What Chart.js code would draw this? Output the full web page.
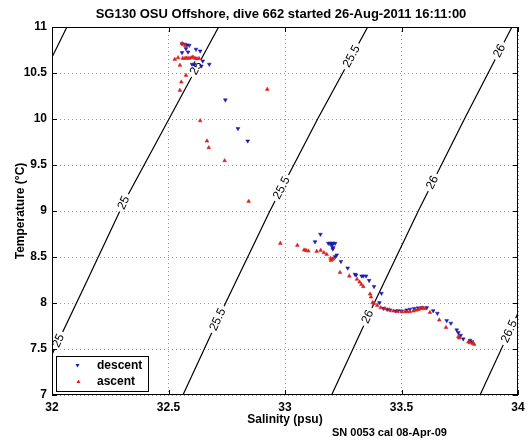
<!DOCTYPE html>
<html>
<head>
<meta charset="utf-8">
<script src="https://cdn.jsdelivr.net/npm/chart.js@4.4.1/dist/chart.umd.min.js"></script>
<style>
html, body { margin: 0; padding: 0; background: #fff; }
canvas { display: block; }
</style>
</head>
<body>
<canvas id="ts" width="530" height="442"></canvas>
<script>
// descent (blue, down triangles) - salinity / temperature
var descentS = [32.558, 32.570, 32.579, 32.589, 32.575, 32.558, 32.584, 32.618, 32.636, 32.647,
  32.601, 32.612, 32.641, 32.675, 32.744, 32.798, 32.840,
  33.152, 33.129, 33.186, 33.193, 33.200, 33.207, 33.215, 33.200, 33.207, 33.205,
  33.222, 33.215, 33.240, 33.269, 33.300, 33.305, 33.329, 33.336, 33.348, 33.361,
  33.382, 33.414, 33.405, 33.422, 33.438, 33.451, 33.474, 33.486, 33.501, 33.522,
  33.536, 33.554, 33.571, 33.588, 33.608, 33.636, 33.654, 33.694, 33.712, 33.737,
  33.744, 33.754, 33.765, 33.794, 33.803];
var descentT = [10.818, 10.812, 10.804, 10.801, 10.764, 10.721, 10.728, 10.758, 10.739, 10.630,
  10.595, 10.595, 10.576, 10.595, 10.207, 9.895, 9.761,
  8.747, 8.666, 8.649, 8.649, 8.649, 8.649, 8.649, 8.623, 8.601, 8.587,
  8.522, 8.503, 8.451, 8.380, 8.312, 8.304, 8.293, 8.293, 8.293, 8.245,
  8.179, 8.105, 8.003, 7.942, 7.932, 7.924, 7.913, 7.916, 7.913, 7.924,
  7.932, 7.940, 7.946, 7.949, 7.949, 7.916, 7.888, 7.808, 7.780, 7.707,
  7.677, 7.649, 7.609, 7.595, 7.579];

// ascent (red, up triangles)
var ascentS = [32.558, 32.571, 32.527, 32.541, 32.561, 32.571, 32.579, 32.588, 32.597, 32.605,
  32.614, 32.622, 32.631, 32.549, 32.575, 32.555, 32.549, 32.924, 32.636, 32.665,
  32.673, 32.741, 32.844, 32.980,
  33.053, 33.082, 33.090, 33.100, 33.136, 33.153, 33.167, 33.179, 33.196, 33.202,
  33.207, 33.197, 33.236, 33.276, 33.309, 33.320, 33.328, 33.336, 33.365, 33.369,
  33.376, 33.382, 33.396, 33.411, 33.429, 33.448, 33.465, 33.482, 33.501, 33.515,
  33.525, 33.536, 33.551, 33.562, 33.572, 33.582, 33.591, 33.601, 33.622, 33.662,
  33.691, 33.744, 33.748, 33.787, 33.794, 33.806, 33.812];
var ascentT = [10.820, 10.800, 10.649, 10.666, 10.660, 10.660, 10.663, 10.660, 10.666, 10.674,
  10.660, 10.655, 10.658, 10.584, 10.475, 10.402, 10.312, 10.323, 9.981, 9.761,
  9.688, 9.547, 9.105, 8.649,
  8.627, 8.576, 8.573, 8.565, 8.562, 8.573, 8.547, 8.527, 8.486, 8.473,
  8.482, 8.462, 8.332, 8.293, 8.258, 8.228, 8.201, 8.179, 8.098, 8.065,
  8.005, 7.997, 7.973, 7.949, 7.938, 7.924, 7.913, 7.910, 7.905, 7.905,
  7.905, 7.905, 7.913, 7.921, 7.929, 7.938, 7.946, 7.938, 7.897, 7.815,
  7.734, 7.634, 7.620, 7.576, 7.568, 7.562, 7.551];

var xTicks = ['32', '32.5', '33', '33.5', '34'];
var yTicks = ['7', '7.5', '8', '8.5', '9', '9.5', '10', '10.5', '11'];

// density contours (sigma-theta)
var sig245S = [32.0, 32.064];
var sig245T = [10.67, 11.0];
var sig25S = [32.0, 32.15, 32.308, 32.502, 32.715];
var sig25T = [7.44, 8.24, 9.09, 10.0, 11.0];
var sig255S = [32.562, 32.745, 32.935, 33.14, 33.355];
var sig255T = [7.0, 8.0, 9.0, 10.0, 11.0];
var sig26S = [33.2, 33.383, 33.572, 33.77, 33.974];
var sig26T = [7.0, 8.0, 9.0, 10.0, 11.0];
var sig265S = [33.837, 34.02];
var sig265T = [7.0, 8.0];

// where the inline labels sit (temperature along each line)
var label25T = [10.55, 9.09, 7.59];
var label255T = [10.68, 9.25, 7.82];
var label26T = [10.74, 9.31, 7.85];
var label265T = [7.69];

var FONT = '"Liberation Sans", Arial, Helvetica, sans-serif';

function pts(xs, ys) {
  return xs.map(function (x, i) { return { x: x, y: ys[i] }; });
}

function contour(name, xs, ys, labelsAt) {
  return {
    label: name,
    data: pts(xs, ys),
    showLine: true,
    borderColor: '#000',
    borderWidth: 1.2,
    pointRadius: 0,
    pointHoverRadius: 0,
    fill: false,
    tension: 0,
    labelT: labelsAt
  };
}

// rótulos das isopicnais, título, caixa, ticks internos e legenda
var tsExtras = {
  id: 'tsExtras',
  afterDatasetDraw: function (chart, args) {
    var ds = chart.data.datasets[args.index];
    if (!ds.labelT || !ds.labelT.length) return;
    var ctx = chart.ctx, xs = chart.scales.x, ys = chart.scales.y, ca = chart.chartArea;
    ctx.save();
    ctx.beginPath();
    ctx.rect(ca.left, ca.top, ca.right - ca.left, ca.bottom - ca.top);
    ctx.clip();
    ctx.font = '12px ' + FONT;
    ds.labelT.forEach(function (t) {
      var p = ds.data;
      for (var i = 0; i < p.length - 1; i++) {
        var a = p[i], b = p[i + 1];
        if (t >= a.y && t <= b.y) {
          var f = (t - a.y) / (b.y - a.y);
          var s = a.x + f * (b.x - a.x);
          var px = xs.getPixelForValue(s), py = ys.getPixelForValue(t);
          var ang = Math.atan2(ys.getPixelForValue(b.y) - ys.getPixelForValue(a.y),
                               xs.getPixelForValue(b.x) - xs.getPixelForValue(a.x));
          var w = ctx.measureText(ds.label).width;
          ctx.save();
          ctx.translate(px, py);
          ctx.rotate(ang);
          ctx.fillStyle = '#fff';
          ctx.fillRect(-w / 2 - 3, -2.5, w + 6, 5);
          ctx.fillStyle = '#000';
          ctx.textAlign = 'center';
          ctx.textBaseline = 'middle';
          ctx.fillText(ds.label, 0, 0);
          ctx.restore();
          break;
        }
      }
    });
    ctx.restore();
  },
  afterDraw: function (chart) {
    var ctx = chart.ctx, ca = chart.chartArea, xs = chart.scales.x, ys = chart.scales.y;
    ctx.save();
    // caixa
    ctx.strokeStyle = '#000';
    ctx.lineWidth = 1;
    ctx.strokeRect(ca.left + 0.5, ca.top + 0.5, ca.right - ca.left - 1, ca.bottom - ca.top - 1);
    // ticks para dentro
    ctx.beginPath();
    xs.ticks.forEach(function (tk) {
      var x = Math.round(xs.getPixelForValue(tk.value)) + 0.5;
      ctx.moveTo(x, ca.bottom); ctx.lineTo(x, ca.bottom - 5);
      ctx.moveTo(x, ca.top); ctx.lineTo(x, ca.top + 5);
    });
    ys.ticks.forEach(function (tk) {
      var y = Math.round(ys.getPixelForValue(tk.value)) + 0.5;
      ctx.moveTo(ca.left, y); ctx.lineTo(ca.left + 5, y);
      ctx.moveTo(ca.right, y); ctx.lineTo(ca.right - 5, y);
    });
    ctx.stroke();

    // título e rodapé
    ctx.fillStyle = '#000';
    ctx.textBaseline = 'middle';
    ctx.textAlign = 'center';
    ctx.font = 'bold 13px ' + FONT;
    ctx.fillText('SG130 OSU Offshore, dive 662 started 26-Aug-2011 16:11:00', 281, 14);
    ctx.textAlign = 'left';
    ctx.font = 'bold 11px ' + FONT;
    ctx.fillText('SN 0053 cal 08-Apr-09', 332, 433);

    // legenda
    ctx.fillStyle = '#fff';
    ctx.fillRect(56, 356, 92, 36);
    ctx.strokeStyle = '#000';
    ctx.strokeRect(56.5, 356.5, 92, 35);
    ctx.fillStyle = '#1a1ab0';
    ctx.beginPath();
    ctx.moveTo(75.5, 364); ctx.lineTo(79.5, 364); ctx.lineTo(77.5, 367.5); ctx.closePath();
    ctx.fill();
    ctx.fillStyle = '#d82020';
    ctx.beginPath();
    ctx.moveTo(76.5, 383); ctx.lineTo(80.5, 383); ctx.lineTo(78.5, 379.5); ctx.closePath();
    ctx.fill();
    ctx.fillStyle = '#000';
    ctx.font = 'bold 12px ' + FONT;
    ctx.fillText('descent', 97, 366);
    ctx.fillText('ascent', 97, 382);
    ctx.restore();
  }
};

var ctx = document.getElementById('ts').getContext('2d');
var chart = new Chart(ctx, {
  type: 'scatter',
  data: {
    datasets: [
      {
        label: 'ascent',
        data: pts(ascentS, ascentT),
        pointStyle: 'triangle',
        pointRadius: 2.2,
        pointBorderWidth: 0.5,
        backgroundColor: '#d82020',
        borderColor: '#d82020'
      },
      {
        label: 'descent',
        data: pts(descentS, descentT),
        pointStyle: 'triangle',
        pointRotation: 180,
        pointRadius: 2.2,
        pointBorderWidth: 0.5,
        backgroundColor: '#1a1ab0',
        borderColor: '#1a1ab0'
      },
      contour('24.5', sig245S, sig245T, []),
      contour('25', sig25S, sig25T, label25T),
      contour('25.5', sig255S, sig255T, label255T),
      contour('26', sig26S, sig26T, label26T),
      contour('26.5', sig265S, sig265T, label265T)
    ]
  },
  options: {
    responsive: false,
    animation: false,
    devicePixelRatio: 1,
    layout: { padding: { top: 27, right: 12, left: 0, bottom: 0 } },
    plugins: {
      legend: { display: false },
      tooltip: { enabled: false },
      title: { display: false }
    },
    scales: {
      x: {
        type: 'linear',
        min: 32,
        max: 34,
        ticks: {
          stepSize: 0.5,
          color: '#000',
          padding: 5,
          font: { family: FONT, size: 12, weight: 'bold' },
          callback: function (v, i) { return xTicks[i]; }
        },
        grid: { color: '#9a9a9a', lineWidth: 1, drawTicks: false },
        border: { display: false, dash: [1, 3] },
        title: {
          display: true,
          text: 'Salinity (psu)',
          color: '#000',
          font: { family: FONT, size: 12, weight: 'bold' },
          padding: { top: 0, bottom: 15 }
        },
        afterFit: function (s) { s.height = 47; }
      },
      y: {
        type: 'linear',
        min: 7,
        max: 11,
        ticks: {
          stepSize: 0.5,
          color: '#000',
          padding: 5,
          font: { family: FONT, size: 12, weight: 'bold' },
          callback: function (v, i) { return yTicks[i]; }
        },
        grid: { color: '#9a9a9a', lineWidth: 1, drawTicks: false },
        border: { display: false, dash: [1, 3] },
        title: {
          display: true,
          text: 'Temperature (°C)',
          color: '#000',
          font: { family: FONT, size: 12, weight: 'bold' },
          padding: { top: 13, bottom: 0 }
        },
        afterFit: function (s) { s.width = 52; }
      }
    }
  },
  plugins: [tsExtras]
});
</script>
</body>
</html>
